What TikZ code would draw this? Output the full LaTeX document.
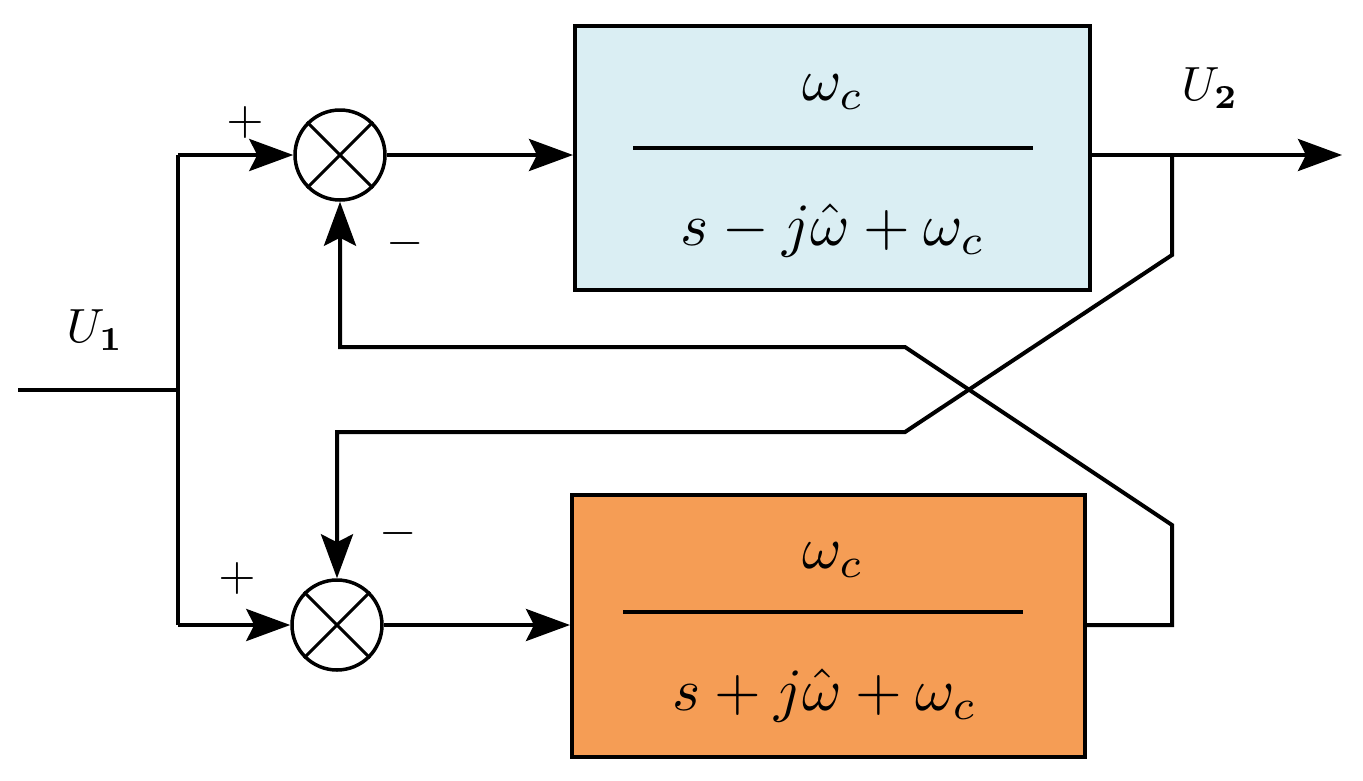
\documentclass[tikz,border=0pt]{standalone}
\usetikzlibrary{arrows.meta}
\newcommand{\bigA}[1]{\scalebox{4.8}{#1}}
\newcommand{\bigB}[1]{\scalebox{6}{#1}}
\begin{document}
\begin{tikzpicture}[x=1pt,y=-1pt,
  ln/.style={line width=4pt},
  arr/.style={ln,-{Stealth[length=44pt,width=32pt,inset=8pt]}},
  sum/.style={circle,draw,line width=3.5pt,minimum size=90pt,inner sep=0pt}]
\useasboundingbox (0,0) rectangle (1363,780);
\definecolor{lblue}{HTML}{DAEEF3}
\definecolor{lorange}{HTML}{F59D55}
\node[sum] (s1) at (340,155) {};
\node[sum] (s2) at (337,625) {};
\draw[line width=3pt] (s1.north west)--(s1.south east) (s1.north east)--(s1.south west);
\draw[line width=3pt] (s2.north west)--(s2.south east) (s2.north east)--(s2.south west);
\node[draw,line width=4pt,fill=lblue,minimum width=515pt,minimum height=264pt,anchor=north west] (b1) at (573,24) {};
\node[draw,line width=4pt,fill=lorange,minimum width=513pt,minimum height=262pt,anchor=north west] (b2) at (570,493) {};
\node (n1) at (833,92) {\bigB{$\omega_c$}};
\node (d1) at (833,230) {\bigB{$s-j\hat{\omega}+\omega_c$}};
\draw[line width=3.5pt] (633,148)--(1033,148);
\node (n2) at (833,560) {\bigB{$\omega_c$}};
\node (d2) at (825,695) {\bigB{$s+j\hat{\omega}+\omega_c$}};
\draw[line width=3.5pt] (623,612)--(1023,612);
\coordinate (in) at (18,390);
\coordinate (j) at (178,390);
\coordinate (jt) at (178,155);
\coordinate (jb) at (178,625);
\coordinate (out) at (1342,155);
\coordinate (t1) at (1172,155);
\coordinate (t2) at (1083,625);
\draw[ln] (in)--(j);
\draw[ln] (jt)--(jb);
\draw[arr] (jt)--(s1.west);
\draw[arr] (jb)--(s2.west);
\draw[arr] (s1.east)--(b1.west |- s1.east);
\draw[arr] (s2.east)--(b2.west |- s2.east);
\draw[arr] (b1.east |- out)--(out);
\draw[arr] (t1)--(1172,255)--(905,432)--(s2.north |- 0,432)--(s2.north);
\draw[arr] (t2)--(1172,625)--(1172,525)--(905,347)--(s1.south |- 0,347)--(s1.south);
\node (u1) at (95,330) {\bigA{$U_{\mathbf 1}$}};
\node (u2) at (1210,88) {\bigA{$U_{\mathbf 2}$}};
\node (p1) at (245,122) {\bigA{$+$}};
\node (m1) at (405,243) {\bigA{$-$}};
\node (p2) at (237,578) {\bigA{$+$}};
\node (m2) at (398,533) {\bigA{$-$}};
\end{tikzpicture}
\end{document}
